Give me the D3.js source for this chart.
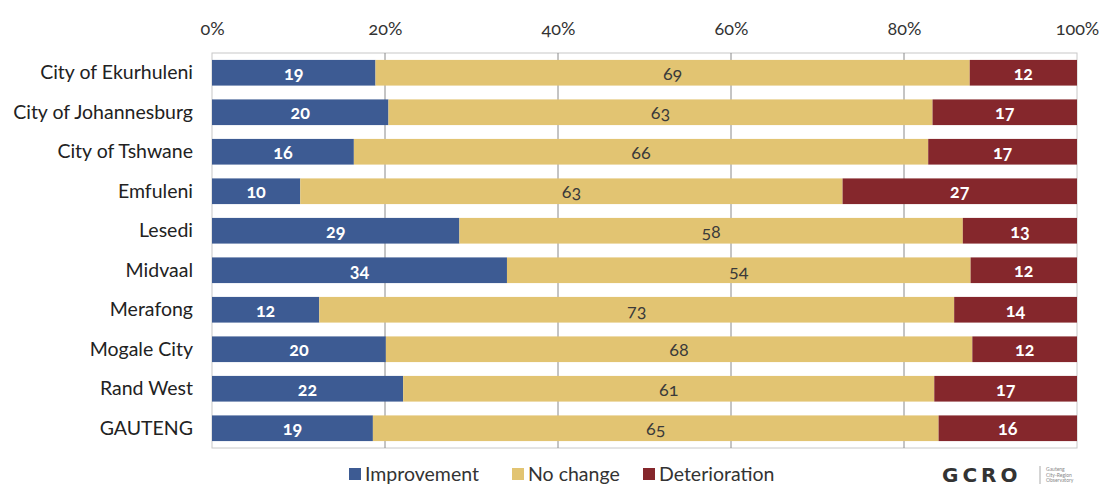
<!DOCTYPE html>
<html><head><meta charset="utf-8">
<script src="https://cdn.jsdelivr.net/npm/d3@7"></script>
<style>
body{margin:0;background:#fff;}
svg text{font-family:Lato,"Open Sans",sans-serif;font-variant-numeric:oldstyle-nums;font-feature-settings:"onum" 1;}
</style></head><body>
<svg id="chart" width="1102" height="486"></svg>
<script>
const categories = ["City of Ekurhuleni","City of Johannesburg","City of Tshwane","Emfuleni","Lesedi","Midvaal","Merafong","Mogale City","Rand West","GAUTENG"];
const seriesNames = ["Improvement","No change","Deterioration"];
const improvement = [18.9,20.4,16.4,10.2,28.6,34.1,12.4,20.1,22.1,18.6];
const noChange    = [68.7,62.9,66.4,62.7,58.2,53.6,73.4,67.8,61.4,65.4];
const deterioration=[12.4,16.7,17.2,27.1,13.2,12.3,14.2,12.1,16.5,16.0];
const tickValues = [0,20,40,60,80,100];
const colors = ["#3d5b93","#e2c472","#85272c"];

const svg = d3.select("#chart");
const m = {left:212, right:1077, top:53, bottom:448};
const x = d3.scaleLinear().domain([0,100]).range([m.left,m.right]);
const y = d3.scaleBand().domain(categories).range([m.top,m.bottom]).paddingInner(0.35).paddingOuter(0.175);

const rows = categories.map((c,i)=>({cat:c, "Improvement":improvement[i], "No change":noChange[i], "Deterioration":deterioration[i]}));
const stacked = d3.stack().keys(seriesNames)(rows);

// frame
svg.append("rect").attr("x",m.left).attr("y",m.top).attr("width",m.right-m.left).attr("height",m.bottom-m.top)
  .attr("fill","none").attr("stroke","#c8c8c8").attr("stroke-width",1);
// gridlines
svg.append("g").selectAll("line").data(tickValues.filter(t=>t>0&&t<100)).join("line")
  .attr("x1",d=>x(d)).attr("x2",d=>x(d)).attr("y1",m.top).attr("y2",m.bottom)
  .attr("stroke","#8a8a8a").attr("stroke-width",1);

// bars
const g = svg.append("g");
stacked.forEach((s,si)=>{
  const gg = g.append("g").attr("fill",colors[si]);
  gg.selectAll("rect").data(s).join("rect")
    .attr("x",d=>x(d[0])).attr("width",d=>x(d[1])-x(d[0]))
    .attr("y",d=>y(d.data.cat)).attr("height",y.bandwidth());
  gg.selectAll("text").data(s).join("text")
    .attr("x",d=>(x(d[0])+x(d[1]))/2).attr("y",d=>y(d.data.cat)+y.bandwidth()/2+7)
    .attr("text-anchor","middle").attr("font-size",18).attr("font-weight",si===1?400:700)
    .attr("fill",si===1?"#3a3a3a":"#fff")
    .text(d=>Math.round(d[1]-d[0]));
});

// top axis
const axis = d3.axisTop(x).tickValues(tickValues).tickFormat(d=>d+"%").tickSize(0);
const ax = svg.append("g").attr("transform",`translate(0,${m.top-24})`).call(axis);
ax.select(".domain").remove();
ax.selectAll("text").attr("font-size",18).attr("fill","#333").attr("dy","0.35em").attr("y",0);

// y labels
const yAxis = d3.axisLeft(y).tickSize(0).tickPadding(19);
const ya = svg.append("g").attr("transform",`translate(${m.left},0)`).call(yAxis);
ya.select(".domain").remove();
ya.selectAll("text").attr("font-size",19.5).attr("fill","#222");

// legend
const legX = [349,512,643];
const leg = svg.append("g").selectAll("g").data(seriesNames).join("g")
  .attr("transform",(d,i)=>`translate(${legX[i]},468)`);
leg.append("rect").attr("width",12).attr("height",12).attr("y",0).attr("fill",(d,i)=>colors[i]);
leg.append("text").attr("x",16).attr("y",12.5).attr("font-size",19.5).attr("fill","#333").text(d=>d);

// logo
const logo = svg.append("g").attr("transform","translate(942,482)");
logo.append("text").attr("x",0).attr("y",0).attr("font-size",20).attr("font-weight",700)
  .attr("letter-spacing","4").attr("fill","#333").style("font-family","'DejaVu Sans'").text("GCRO");
logo.append("line").attr("x1",98).attr("x2",98).attr("y1",-16).attr("y2",2).attr("stroke","#aaa");
["Gauteng","City-Region","Observatory"].forEach((t,i)=>
  logo.append("text").attr("x",104).attr("y",-11+i*5.5).attr("font-size",5).attr("fill","#888").text(t));
</script></body></html>
